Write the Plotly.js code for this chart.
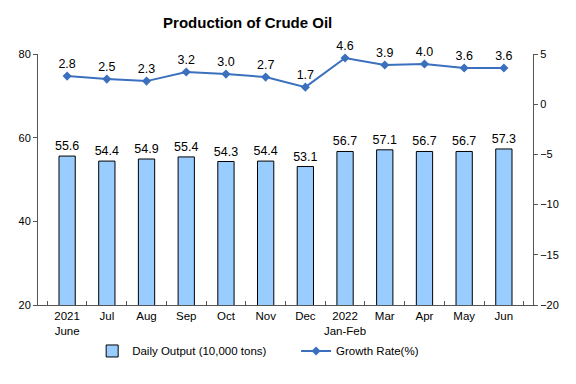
<!DOCTYPE html>
<html><head><meta charset="utf-8">
<script src="https://cdn.plot.ly/plotly-3.0.1.min.js"></script>
<style>body{margin:0;background:#fff}#c{width:576px;height:384px}</style>
</head><body><div id="c"></div>
<script>
const categories = ["2021<br>June","Jul","Aug","Sep","Oct","Nov","Dec","2022<br>Jan-Feb","Mar","Apr","May","Jun"];
const dailyOutput = [55.6,54.4,54.9,55.4,54.3,54.4,53.1,56.7,57.1,56.7,56.7,57.3];
const growthRate = [2.8,2.5,2.3,3.2,3.0,2.7,1.7,4.6,3.9,4.0,3.6,3.6];
const leftTicks = [20,40,60,80];
const rightTicks = [-20,-15,-10,-5,0,5];

const F = "Arial, 'Liberation Sans', sans-serif";
const traces = [
  {type:'bar', x:categories, y:dailyOutput, name:'Daily Output (10,000 tons)', legend:'legend',
   marker:{color:'#99CCFF', line:{color:'#000', width:1}},
   text:dailyOutput.map(v=>v.toFixed(1)), textposition:'outside', cliponaxis:false,
   constraintext:'none', textangle:0,
   textfont:{family:F,size:12.5,color:'#000'}, hoverinfo:'skip'},
  {type:'scatter', mode:'lines+markers+text', x:categories, y:growthRate, yaxis:'y2', legend:'legend2',
   name:'Growth Rate(%)', line:{color:'#3A70BE', width:2},
   marker:{symbol:'diamond', size:7, color:'#3A70BE'},
   text:growthRate.map(v=>v.toFixed(1)), textposition:'top center', cliponaxis:false,
   textfont:{family:F,size:12.5,color:'#000'}}
];
const legBase = {orientation:'h', xref:'container', xanchor:'left', yref:'container', y:0.086,
  yanchor:'middle', font:{family:F,size:11.5}, itemclick:false, bgcolor:'rgba(0,0,0,0)'};
const layout = {
  width:576, height:384, paper_bgcolor:'#fff', plot_bgcolor:'#fff',
  margin:{l:38, r:43, t:54, b:79},
  font:{family:F, size:11, color:'#000'},
  title:{text:'<b>Production of Crude Oil</b>', font:{family:F,size:15,color:'#000'},
         xref:'container', x:0.43, xanchor:'center', yref:'container', y:0.94, yanchor:'middle'},
  bargap:0.59, showlegend:true,
  xaxis:{type:'category', showline:true, linecolor:'#555', linewidth:1, ticks:'inside',
         tickson:'boundaries', ticklen:4, tickcolor:'#555', showgrid:false, tickangle:0,
         tickfont:{family:F,size:11.5}},
  yaxis:{range:[20,80], tickvals:leftTicks, showline:true, linecolor:'#555', ticks:'outside',
         ticklen:4, tickcolor:'#555', showgrid:false, zeroline:false, tickfont:{family:F,size:11}},
  yaxis2:{range:[-20,5], tickvals:rightTicks, overlaying:'y', side:'right', showline:true,
          linecolor:'#555', ticks:'outside', ticklen:4, tickcolor:'#555', showgrid:false,
          zeroline:false, tickfont:{family:F,size:11}},
  legend:Object.assign({}, legBase, {x:0.16}),
  legend2:Object.assign({}, legBase, {x:0.514})
};
Plotly.newPlot('c', traces, layout, {staticPlot:true});
</script></body></html>
